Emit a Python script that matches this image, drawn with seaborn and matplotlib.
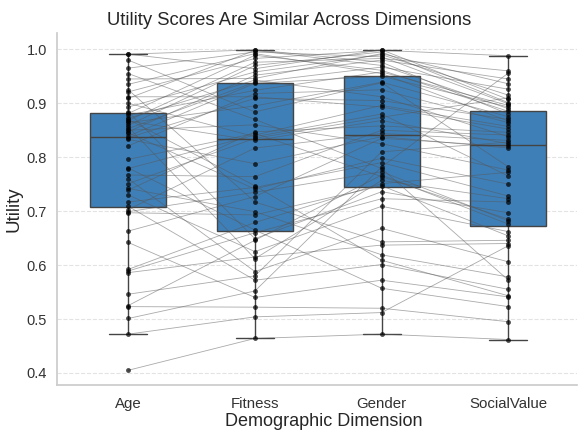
import pandas as pd
import matplotlib
matplotlib.use('Agg')
import matplotlib.pyplot as plt
import seaborn as sns

# 차원 이름
dimensions = ['Age', 'Fitness', 'Gender', 'SocialValue']

# 응답자별 효용 값 (그림에서 읽은 값, 같은 위치 = 같은 응답자)
age = [0.991, 0.991, 0.980, 0.965, 0.955, 0.945, 0.935, 0.925, 0.921, 0.912, 0.909, 0.900, 0.893, 0.884,
       0.881, 0.878, 0.872, 0.870, 0.868, 0.867, 0.864, 0.859, 0.856, 0.853, 0.850, 0.847, 0.845, 0.839,
       0.836, 0.833, 0.821, 0.796, 0.780, 0.779, 0.767, 0.760, 0.751, 0.742, 0.739, 0.730, 0.717, 0.709,
       0.703, 0.699, 0.697, 0.663, 0.642, 0.592, 0.589, 0.586, 0.546, 0.525, 0.523, 0.501, 0.472, 0.405]
fitness = [0.964, 0.999, 0.884, 0.995, 0.870, 0.946, 0.992, 0.717, 0.983, 0.912, 0.998, 0.838, 0.958, 0.649,
           0.989, 0.924, 0.943, 0.747, 0.976, 0.831, 0.895, 0.970, 0.612, 0.939, 0.860, 0.952, 0.741, 0.937,
           0.909, 0.788, 0.918, 0.844, 0.665, 0.841, 0.764, 0.588, 0.835, 0.699, 0.847, 0.625, 0.744, 0.572,
           0.817, 0.735, 0.693, 0.727, 0.540, 0.679, 0.660, 0.615, 0.580, 0.646, 0.522, 0.552, 0.504, 0.464]
gender = [0.999, 0.976, 0.938, 0.986, 0.779, 0.992, 0.955, 0.643, 0.998, 0.893, 0.970, 0.880, 0.990, 0.736,
          0.961, 0.958, 0.912, 0.609, 0.983, 0.868, 0.939, 0.995, 0.757, 0.967, 0.825, 0.980, 0.798, 0.950,
          0.905, 0.838, 0.925, 0.764, 0.557, 0.896, 0.850, 0.668, 0.874, 0.619, 0.858, 0.709, 0.790, 0.601,
          0.844, 0.773, 0.747, 0.835, 0.572, 0.751, 0.723, 0.637, 0.810, 0.767, 0.520, 0.782, 0.512, 0.472]
social = [0.907, 0.880, 0.782, 0.899, 0.572, 0.936, 0.867, 0.646, 0.988, 0.852, 0.890, 0.765, 0.915, 0.697,
          0.885, 0.896, 0.838, 0.543, 0.960, 0.825, 0.875, 0.901, 0.723, 0.926, 0.776, 0.945, 0.750, 0.893,
          0.870, 0.817, 0.864, 0.685, 0.523, 0.857, 0.841, 0.606, 0.910, 0.578, 0.846, 0.662, 0.728, 0.555,
          0.831, 0.682, 0.654, 0.820, 0.541, 0.772, 0.717, 0.640, 0.828, 0.676, 0.495, 0.956, 0.636, 0.462]

# 긴 형식 데이터프레임 만들기
rows = []
for dim, vals in zip(dimensions, [age, fitness, gender, social]):
    for i, v in enumerate(vals):
        rows.append({'subject': i, 'Dimension': dim, 'Utility': v})
df = pd.DataFrame(rows)

sns.set_theme(style='whitegrid')
plt.rcParams['font.family'] = ['Liberation Sans', 'DejaVu Sans']

fig, ax = plt.subplots(figsize=(5.78, 4.3), dpi=100)
fig.subplots_adjust(left=0.099, right=0.998, top=0.923, bottom=0.105)

sns.boxplot(data=df, x='Dimension', y='Utility', order=dimensions, color='#3f7fb7',
            saturation=1, width=0.6, showfliers=False, linecolor='#444444', linewidth=1.0, ax=ax)
sns.lineplot(data=df, x='Dimension', y='Utility', units='subject', estimator=None,
             color='#555555', linewidth=0.6, alpha=0.5, ax=ax)
sns.stripplot(data=df, x='Dimension', y='Utility', order=dimensions, jitter=False,
              color='black', size=3.5, alpha=0.7, ax=ax)

ax.set_xlim(-0.56, 3.54)
ax.set_ylim(0.378, 1.03)
ax.grid(axis='x', visible=False)
ax.grid(axis='y', linestyle='--', color='#e3e3e3', linewidth=0.8)
sns.despine(ax=ax)
for s in ['left', 'bottom']:
    ax.spines[s].set_color('#cccccc')

ax.set_title('Utility Scores Are Similar Across Dimensions', fontsize=13.3, color='#262626',
             pad=6, x=0.446)
ax.set_xlabel('Demographic Dimension', fontsize=13)
ax.set_ylabel('Utility', fontsize=13.5)
ax.yaxis.set_label_coords(-0.066, 0.5)
ax.xaxis.set_label_coords(0.512, -0.08)
ax.tick_params(axis='x', labelsize=10.8, colors='#333333', pad=3)
ax.tick_params(axis='y', labelsize=10.5, colors='#333333', pad=1.5)

plt.savefig('out.png', dpi=100)
